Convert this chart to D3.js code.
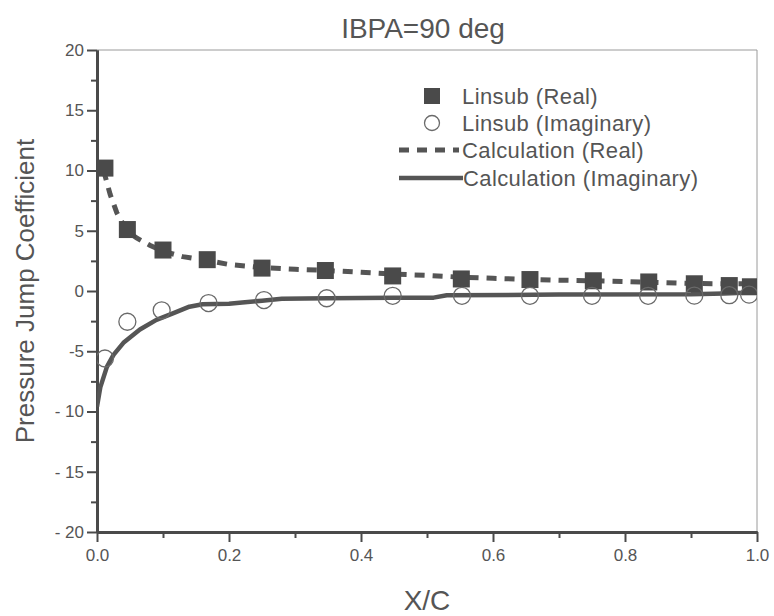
<!DOCTYPE html>
<html>
<head>
<meta charset="utf-8">
<script src="https://cdn.jsdelivr.net/npm/d3@7"></script>
<style>
  html, body { margin: 0; padding: 0; background: #ffffff; }
  svg { display: block; font-family: "Liberation Sans", Arial, sans-serif; }
</style>
</head>
<body>
<svg id="chart" width="774" height="616"></svg>
<script>
// ---- data ----
const titleText = "IBPA=90 deg";
const xLabel = "X/C";
const yLabel = "Pressure Jump Coefficient";
const xTicks = [0.0, 0.2, 0.4, 0.6, 0.8, 1.0];
const yTicks = [-20, -15, -10, -5, 0, 5, 10, 15, 20];
const yTickLabels = ["- 20", "- 15", "- 10", "-5", "0", "5", "10", "15", "20"];
const legendLabels = ["Linsub (Real)", "Linsub (Imaginary)", "Calculation (Real)", "Calculation (Imaginary)"];

const linsubRealX = [0.012, 0.046, 0.1, 0.167, 0.25, 0.346, 0.448, 0.552, 0.656, 0.752, 0.836, 0.905, 0.958, 0.99];
const linsubRealY = [10.2, 5.1, 3.4, 2.6, 1.9, 1.7, 1.25, 1.0, 0.95, 0.85, 0.75, 0.6, 0.45, 0.35];

const linsubImagX = [0.012, 0.046, 0.098, 0.169, 0.253, 0.348, 0.448, 0.553, 0.656, 0.75, 0.835, 0.905, 0.958, 0.988];
const linsubImagY = [-5.6, -2.55, -1.6, -1.0, -0.75, -0.6, -0.4, -0.4, -0.4, -0.4, -0.4, -0.38, -0.35, -0.3];

const calcRealX = [0.01, 0.02, 0.03, 0.045, 0.06, 0.08, 0.1, 0.13, 0.17, 0.2, 0.25, 0.3, 0.35, 0.4, 0.45, 0.5, 0.55, 0.6, 0.65, 0.7, 0.75, 0.8, 0.85, 0.9, 0.95, 1.0];
const calcRealY = [10.0, 8.0, 6.5, 5.0, 4.4, 3.8, 3.3, 2.85, 2.5, 2.2, 1.95, 1.8, 1.7, 1.55, 1.4, 1.3, 1.15, 1.05, 0.97, 0.9, 0.85, 0.78, 0.7, 0.62, 0.6, 0.6];

const calcImagX = [0, 0.005, 0.015, 0.025, 0.04, 0.065, 0.09, 0.115, 0.14, 0.16, 0.2, 0.22, 0.25, 0.28, 0.35, 0.45, 0.51, 0.53, 0.7, 0.9, 0.95, 1.0];
const calcImagY = [-9.6, -8.0, -6.3, -5.3, -4.3, -3.2, -2.4, -1.85, -1.3, -1.1, -1.05, -0.95, -0.8, -0.65, -0.6, -0.55, -0.55, -0.35, -0.3, -0.28, -0.2, -0.1];

// ---- layout ----
const svg = d3.select("#chart");
const W = 774, H = 616;
const m = { left: 97, right: 17, top: 50, bottom: 84 };
const iw = W - m.left - m.right, ih = H - m.top - m.bottom;
const ink = "#4a4a4a";
const textCol = "#555555";

const x = d3.scaleLinear().domain([0, 1]).range([m.left, m.left + iw]);
const y = d3.scaleLinear().domain([-20, 20]).range([m.top + ih, m.top]);

svg.append("rect").attr("width", W).attr("height", H).attr("fill", "#ffffff");

// frame (top / right thin)
svg.append("line").attr("x1", x(0)).attr("x2", x(1)).attr("y1", y(20)).attr("y2", y(20))
  .attr("stroke", "#9a9a9a").attr("stroke-width", 1);
svg.append("line").attr("x1", x(1)).attr("x2", x(1)).attr("y1", y(20)).attr("y2", y(-20))
  .attr("stroke", "#9a9a9a").attr("stroke-width", 1);

// axes
const xAxis = svg.append("g").attr("transform", `translate(0,${y(-20)})`)
  .call(d3.axisBottom(x).tickValues(xTicks).tickFormat(d3.format(".1f")).tickSize(10).tickSizeOuter(0).tickPadding(7));
const xMinor = svg.append("g").attr("transform", `translate(0,${y(-20)})`)
  .call(d3.axisBottom(x).tickValues(d3.range(0.1, 1, 0.2)).tickFormat("").tickSize(6).tickSizeOuter(0));
const yAxis = svg.append("g").attr("transform", `translate(${x(0)},0)`)
  .call(d3.axisLeft(y).tickValues(yTicks).tickFormat((d, i) => yTickLabels[i]).tickSize(10).tickSizeOuter(0).tickPadding(3));
const yMinor = svg.append("g").attr("transform", `translate(${x(0)},0)`)
  .call(d3.axisLeft(y).tickValues(d3.range(-17.5, 20, 5)).tickFormat("").tickSize(6).tickSizeOuter(0));

[xAxis, xMinor, yAxis, yMinor].forEach(g => {
  g.select(".domain").attr("stroke", ink).attr("stroke-width", 3);
  g.selectAll(".tick line").attr("stroke", ink).attr("stroke-width", 2);
  g.selectAll(".tick text").attr("fill", textCol).attr("font-size", 17)
    .attr("font-family", "'Liberation Sans', Arial, sans-serif");
});

// clip
svg.append("clipPath").attr("id", "plot").append("rect")
  .attr("x", x(0)).attr("y", y(20)).attr("width", iw).attr("height", ih);
const plot = svg.append("g").attr("clip-path", "url(#plot)");

const line = d3.line().x(d => x(d[0])).y(d => y(d[1]));

// Calculation (Real) - dashed
plot.append("path").datum(d3.zip(calcRealX, calcRealY)).attr("d", line)
  .attr("fill", "none").attr("stroke", "#555").attr("stroke-width", 5)
  .attr("stroke-dasharray", "10,8");

// Calculation (Imaginary) - solid
plot.append("path").datum(d3.zip(calcImagX, calcImagY)).attr("d", line)
  .attr("fill", "none").attr("stroke", "#555").attr("stroke-width", 4.5)
  .attr("stroke-linejoin", "round");

// Linsub (Real) squares
const sq = 17;
plot.selectAll("rect.sq").data(d3.zip(linsubRealX, linsubRealY)).join("rect")
  .attr("class", "sq")
  .attr("x", d => x(d[0]) - sq / 2).attr("y", d => y(d[1]) - sq / 2)
  .attr("width", sq).attr("height", sq).attr("fill", ink);

// Linsub (Imaginary) circles
plot.selectAll("circle.ci").data(d3.zip(linsubImagX, linsubImagY)).join("circle")
  .attr("class", "ci")
  .attr("cx", d => x(d[0])).attr("cy", d => y(d[1])).attr("r", 8.5)
  .attr("fill", "none").attr("stroke", "#6a6a6a").attr("stroke-width", 1.3);

// title
svg.append("text").attr("x", 423).attr("y", 38).attr("text-anchor", "middle")
  .attr("font-size", 28).attr("fill", textCol).text(titleText);

// axis labels
svg.append("text").attr("x", x(0.5)).attr("y", 610).attr("text-anchor", "middle")
  .attr("font-size", 28).attr("fill", textCol).text(xLabel);
svg.append("text").attr("transform", `translate(34,${y(0)}) rotate(-90)`).attr("text-anchor", "middle")
  .attr("font-size", 26).attr("fill", textCol).text(yLabel);

// legend
const lg = svg.append("g");
const rows = [96, 123, 150, 178];
const tx = 462;
lg.append("rect").attr("x", 432 - 8).attr("y", rows[0] - 8).attr("width", 16).attr("height", 16).attr("fill", ink);
lg.append("circle").attr("cx", 432).attr("cy", rows[1]).attr("r", 7.5)
  .attr("fill", "none").attr("stroke", "#6a6a6a").attr("stroke-width", 1.3);
lg.append("line").attr("x1", 399).attr("x2", 459).attr("y1", rows[2]).attr("y2", rows[2])
  .attr("stroke", "#555").attr("stroke-width", 5).attr("stroke-dasharray", "10,8");
lg.append("line").attr("x1", 399).attr("x2", 463).attr("y1", rows[3]).attr("y2", rows[3])
  .attr("stroke", "#555").attr("stroke-width", 4.5);
lg.selectAll("text").data(legendLabels).join("text")
  .attr("x", (d, i) => i === 3 ? 463 : tx).attr("y", (d, i) => rows[i])
  .attr("dy", "0.36em").attr("font-size", 22).attr("fill", textCol)
  .attr("letter-spacing", 0.4).text(d => d);
</script>
</body>
</html>
